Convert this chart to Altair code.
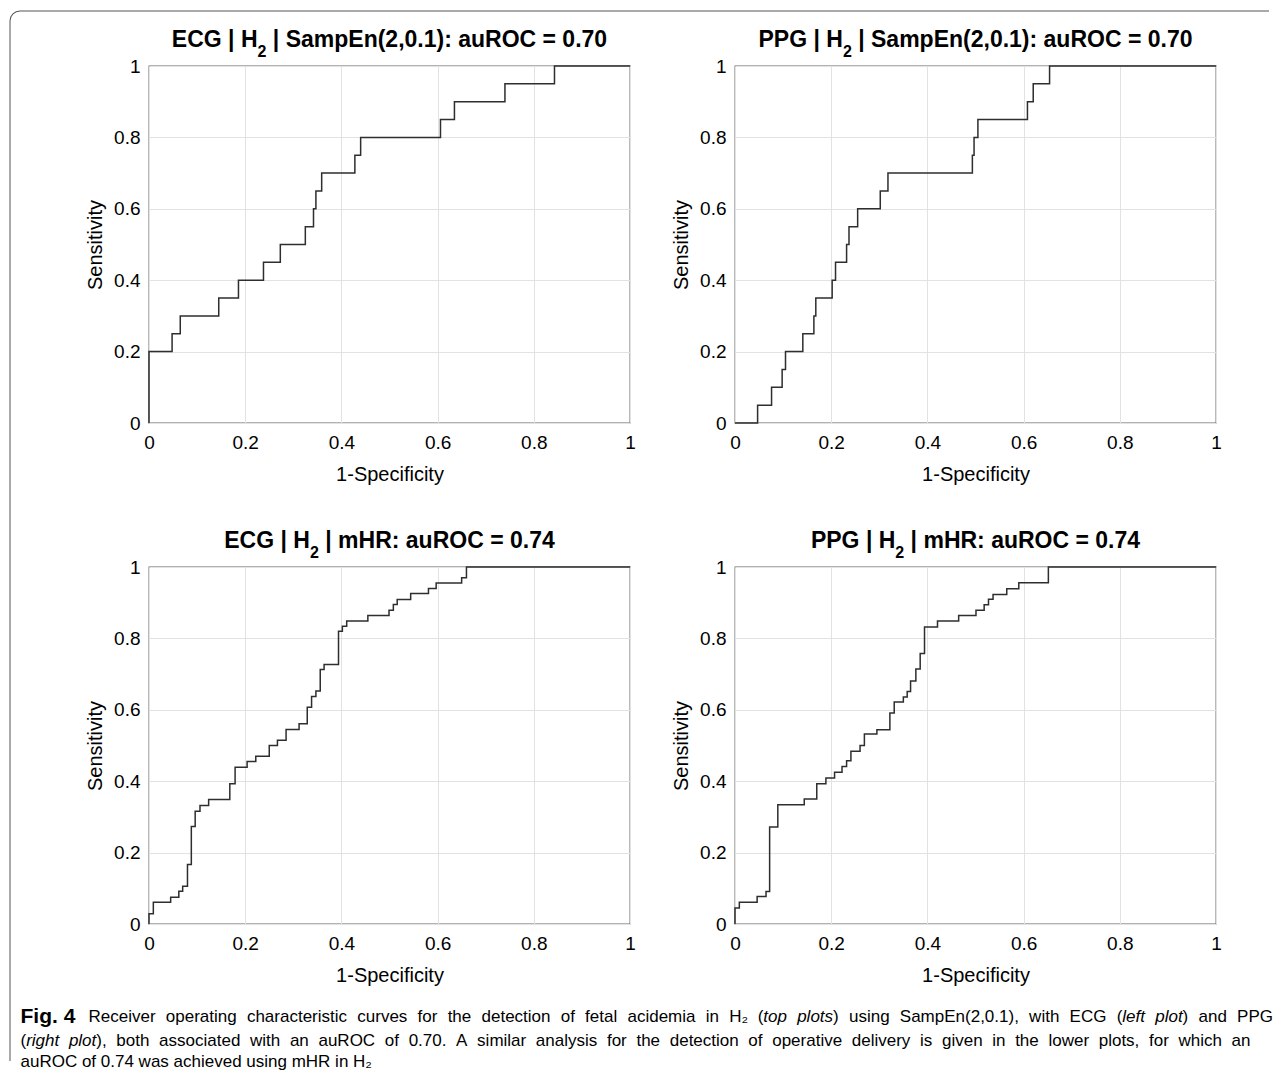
import altair as alt
import pandas as pd

# ---- data (step vertices, step-after) ----
ecg_samp_fpr = [0, 0, 0.048, 0.065, 0.145, 0.186, 0.238, 0.273, 0.325, 0.342, 0.347, 0.359, 0.428, 0.44, 0.606, 0.635, 0.740, 0.843, 1.0]
ecg_samp_tpr = [0, 0.2, 0.25, 0.30, 0.35, 0.40, 0.45, 0.50, 0.55, 0.60, 0.65, 0.70, 0.75, 0.80, 0.85, 0.90, 0.95, 1.0, 1.0]

ppg_samp_fpr = [0, 0.047, 0.076, 0.098, 0.105, 0.141, 0.164, 0.168, 0.202, 0.209, 0.232, 0.237, 0.255, 0.302, 0.318, 0.4935, 0.497, 0.505, 0.608, 0.620, 0.654, 1.0]
ppg_samp_tpr = [0, 0.05, 0.10, 0.15, 0.20, 0.25, 0.30, 0.35, 0.40, 0.45, 0.50, 0.55, 0.60, 0.65, 0.70, 0.75, 0.80, 0.85, 0.90, 0.95, 1.0, 1.0]

ecg_mhr_fpr = [0, 0, 0.009, 0.045, 0.062, 0.070, 0.080, 0.088, 0.096, 0.106, 0.124, 0.168, 0.179, 0.204, 0.222, 0.250, 0.267, 0.285, 0.312, 0.329,
               0.338, 0.347, 0.356, 0.364, 0.394, 0.402, 0.411, 0.455, 0.499, 0.508, 0.516, 0.544, 0.581, 0.597, 0.650, 0.660, 1.0]
ecg_mhr_tpr = [0, 0.029, 0.061, 0.075, 0.092, 0.106, 0.167, 0.273, 0.316, 0.332, 0.349, 0.393, 0.439, 0.455, 0.470, 0.50, 0.515, 0.545, 0.561, 0.607,
               0.637, 0.653, 0.713, 0.727, 0.82, 0.834, 0.849, 0.864, 0.879, 0.895, 0.909, 0.926, 0.940, 0.955, 0.970, 1.0, 1.0]

ppg_mhr_fpr = [0, 0, 0.009, 0.046, 0.0645, 0.072, 0.089, 0.144, 0.170, 0.189, 0.207, 0.2225, 0.232, 0.241, 0.260, 0.269, 0.295, 0.322, 0.331, 0.350,
               0.358, 0.365, 0.376, 0.385, 0.394, 0.421, 0.465, 0.501, 0.518, 0.527, 0.5365, 0.565, 0.590, 0.6515, 1.0]
ppg_mhr_tpr = [0, 0.045, 0.061, 0.077, 0.091, 0.272, 0.334, 0.350, 0.393, 0.409, 0.425, 0.4415, 0.457, 0.484, 0.50, 0.532, 0.544, 0.591, 0.622, 0.636,
               0.651, 0.681, 0.714, 0.758, 0.832, 0.849, 0.864, 0.879, 0.894, 0.910, 0.923, 0.939, 0.956, 1.0, 1.0]

# titles: (before subscript, subscript, after subscript)
titles = [
    ("ECG | H", "2", " | SampEn(2,0.1): auROC = 0.70"),
    ("PPG | H", "2", " | SampEn(2,0.1): auROC = 0.70"),
    ("ECG | H", "2", " | mHR: auROC = 0.74"),
    ("PPG | H", "2", " | mHR: auROC = 0.74"),
]
tick_values = [0, 0.2, 0.4, 0.6, 0.8, 1]
x_title = "1-Specificity"
y_title = "Sensitivity"

# caption; words wrapped in _..._ are set in italics
caption_bold = "Fig. 4"
caption_lines = [
    "Receiver operating characteristic curves for the detection of fetal acidemia in H\u2082 (_top_ _plots_) using SampEn(2,0.1), with ECG (_left_ _plot_) and PPG",
    "(_right_ _plot_), both associated with an auROC of 0.70. A similar analysis for the detection of operative delivery is given in the lower plots, for which an",
    "auROC of 0.74 was achieved using mHR in H\u2082",
]

W, H = 481, 357
FONT = "Liberation Sans"
FRAME = "#555555"
T_SIZE, SUB_SIZE = 23, 16
CAP_SIZE = 17

# advance widths (1/1000 em) of Liberation Sans (Arial metrics), used only to lay out text runs
BOLD_W = {'E': 667, 'C': 722, 'G': 778, 'P': 667, ' ': 278, '|': 280, 'H': 722, '2': 556, 'S': 667,
          'a': 556, 'm': 889, 'p': 611, 'n': 611, '(': 333, ',': 278, '0': 556, '.': 278, '1': 556,
          ')': 333, ':': 333, 'u': 611, 'R': 722, 'O': 778, '=': 584, '7': 556, '4': 556}
REG_W = {' ': 278, '(': 333, ')': 333, ',': 278, '-': 333, '.': 278, ':': 278, '\u2082': 350,
         'A': 667, 'C': 722, 'E': 667, 'G': 778, 'H': 722, 'O': 778, 'P': 667, 'R': 722, 'S': 667,
         'a': 556, 'b': 556, 'c': 500, 'd': 556, 'e': 556, 'f': 278, 'g': 556, 'h': 556, 'i': 222,
         'j': 222, 'k': 500, 'l': 222, 'm': 833, 'n': 556, 'o': 556, 'p': 556, 'q': 556, 'r': 333,
         's': 500, 't': 278, 'u': 556, 'v': 500, 'w': 722, 'x': 500, 'y': 500, 'z': 500}


def tw(s, size, table=BOLD_W):
    return sum(table.get(c, 556) for c in s) * size / 1000.0


def one(**kw):
    return alt.Chart(pd.DataFrame([kw]))


def title_marks(parts):
    pre, sub, post = parts
    post_text = post.lstrip()
    total = tw(pre, T_SIZE) + tw(sub, SUB_SIZE) + tw(post, T_SIZE)
    x0 = W / 2 - total / 2
    xs = x0 + tw(pre, T_SIZE)
    xp = xs + tw(sub, SUB_SIZE) + tw(post[: len(post) - len(post_text)], T_SIZE)
    common = dict(font=FONT, fontWeight="bold", align="left", baseline="alphabetic", color="black")
    return [
        one(t=pre).mark_text(fontSize=T_SIZE, **common).encode(text="t:N", x=alt.value(x0), y=alt.value(-19)),
        one(t=sub).mark_text(fontSize=SUB_SIZE, **common).encode(text="t:N", x=alt.value(xs), y=alt.value(-9)),
        one(t=post_text).mark_text(fontSize=T_SIZE, **common).encode(text="t:N", x=alt.value(xp), y=alt.value(-19)),
    ]


def caption_runs(line, x_left, x_right, y, justify):
    """Split a caption line into runs (normal / italic) and place them, justified if asked."""
    words = line.split(" ")
    runs_per_word = []
    for w in words:
        parts = w.split("_")
        runs_per_word.append([(p, i % 2 == 1) for i, p in enumerate(parts) if p])
    widths = [sum(tw(p, CAP_SIZE, REG_W) for p, _ in r) for r in runs_per_word]
    space = tw(" ", CAP_SIZE, REG_W)
    if justify and len(words) > 1:
        space = (x_right - x_left - sum(widths)) / (len(words) - 1)
    rows = []
    x = x_left
    for r, wd in zip(runs_per_word, widths):
        xx = x
        for p, it in r:
            rows.append({"t": p, "px": xx, "py": y, "it": it})
            xx += tw(p, CAP_SIZE, REG_W)
        x += wd + space
    return rows


def curve(fpr, tpr):
    df = pd.DataFrame({"fpr": fpr, "tpr": tpr, "i": list(range(len(fpr)))})
    return alt.Chart(df).mark_line(interpolate="step-after", color="#2e2e2e", strokeWidth=1.5).encode(
        x=alt.X("fpr:Q", scale=alt.Scale(domain=[0, 1], nice=False),
                axis=alt.Axis(values=tick_values, format="~g", title=x_title)),
        y=alt.Y("tpr:Q", scale=alt.Scale(domain=[0, 1], nice=False),
                axis=alt.Axis(values=tick_values, format="~g", title=y_title)),
        order="i:Q",
    )


def finish(layers):
    return alt.layer(*layers).properties(width=W, height=H)


# figure frame (decoration) drawn from the top-left panel
frame_top = one(a=0).mark_rule(color=FRAME, strokeWidth=1).encode(
    x=alt.value(-129), x2=alt.value(1120), y=alt.value(-55))
frame_left = one(a=0).mark_rule(color=FRAME, strokeWidth=1).encode(
    x=alt.value(-139), y=alt.value(-45), y2=alt.value(995))
frame_corner = one(a=0).mark_arc(color=FRAME, radius=10.5, radius2=9.5,
                                 theta=4.712389, theta2=6.283185).encode(
    x=alt.value(-129), y=alt.value(-45))

# caption drawn below the bottom-left panel (pixel positions relative to that panel)
CAP_Y = [450, 473.5, 495]
rows = []
rows += caption_runs(caption_lines[0], -60.5, 1124, CAP_Y[0], True)
rows += caption_runs(caption_lines[1], -128.5, 1101.5, CAP_Y[1], True)
rows += caption_runs(caption_lines[2], -128.5, 0, CAP_Y[2], False)
cap_df = pd.DataFrame(rows)
CAP = dict(font=FONT, fontSize=CAP_SIZE, align="left", baseline="middle", color="black")
cap_norm = alt.Chart(cap_df[~cap_df["it"]]).mark_text(**CAP).encode(
    text="t:N", x=alt.X("px:Q", scale=None, axis=None), y=alt.Y("py:Q", scale=None, axis=None))
cap_ital = alt.Chart(cap_df[cap_df["it"]]).mark_text(fontStyle="italic", **CAP).encode(
    text="t:N", x=alt.X("px:Q", scale=None, axis=None), y=alt.Y("py:Q", scale=None, axis=None))
cap_bold = one(t=caption_bold).mark_text(font=FONT, fontSize=21, fontWeight="bold", align="left",
                                         baseline="middle", color="black").encode(
    text="t:N", x=alt.value(-128.5), y=alt.value(CAP_Y[0]))

c1 = finish([curve(ecg_samp_fpr, ecg_samp_tpr), frame_top, frame_left, frame_corner] + title_marks(titles[0]))
c2 = finish([curve(ppg_samp_fpr, ppg_samp_tpr)] + title_marks(titles[1]))
c3 = finish([curve(ecg_mhr_fpr, ecg_mhr_tpr), cap_bold, cap_norm, cap_ital] + title_marks(titles[2]))
c4 = finish([curve(ppg_mhr_fpr, ppg_mhr_tpr)] + title_marks(titles[3]))

chart = alt.concat(c1, c2, c3, c4, columns=2, spacing={"row": 144, "column": 105}, bounds="flush").properties(
    padding={"left": 0, "top": 1, "right": 0, "bottom": 0},
    background="white",
).configure_view(
    stroke="#666666", strokeWidth=1.3
).configure_axis(
    labelFont=FONT, labelFontSize=19, labelColor="black", labelFlush=False,
    titleFont=FONT, titleFontSize=20, titleColor="black", titleFontWeight="normal",
    grid=True, gridColor="#e2e2e2", gridWidth=1,
    domain=False, ticks=False,
).configure_axisX(
    labelPadding=10, titlePadding=12,
).configure_axisY(
    labelPadding=9, titlePadding=8,
)

chart.save("out.html", embed_options={"renderer": "svg", "actions": False})
